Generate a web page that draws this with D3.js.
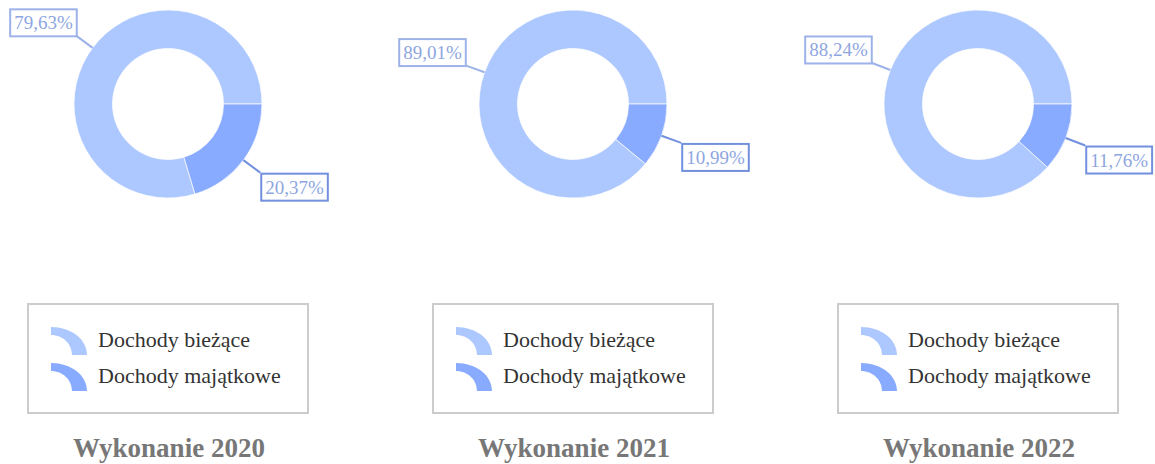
<!DOCTYPE html>
<html>
<head>
<meta charset="utf-8">
<script src="https://cdn.jsdelivr.net/npm/d3@7"></script>
<style>
  body { margin: 0; background: #fff; }
  svg { display: block; font-family: "Liberation Serif", "Times New Roman", serif; }
</style>
</head>
<body>
<svg id="chart" width="1155" height="464"></svg>
<script>
// values
const years = ["2020", "2021", "2022"];
const categories = ["Dochody bieżące", "Dochody majątkowe"];
const biezace = [79.63, 89.01, 88.24];
const majatkowe = [20.37, 10.99, 11.76];

const sliceColors = ["#adc8ff", "#88aaff"];
const labelStroke = ["#9cb2e8", "#7290dd"];
const labelText = "#8ea6df";

const svg = d3.select("#chart");
const panelX = d3.scalePoint().domain(years).range([168, 978]);
const cy = 104;
const outerR = 94, innerR = 55.5, lineR = 115;

const fmt = d3.formatLocale({ decimal: ",", thousands: " ", grouping: [3], currency: ["", " zł"] }).format(".2f");

// counter-clockwise from 3 o'clock, like the original
const pie = d3.pie().sort(null).startAngle(Math.PI / 2).endAngle(Math.PI / 2 - 2 * Math.PI);
const arc = d3.arc().innerRadius(innerR).outerRadius(outerR);

// legend icon: a quarter of an elliptic ring, origin at its bottom-left
function iconPath() {
    const p = d3.path();
    p.moveTo(0, -28);
    p.bezierCurveTo(20, -28, 36, -16, 36, 0);
    p.lineTo(21, 0);
    p.bezierCurveTo(21, -11, 12, -20, 0, -20);
    p.closePath();
    return p.toString();
}

years.forEach(function(year, i) {
    const cx = panelX(year);
    const values = [biezace[i], majatkowe[i]];
    const g = svg.append("g").attr("class", "panel").attr("transform", "translate(" + cx + "," + cy + ")");

    const arcs = pie(values);
    g.selectAll("path.slice").data(arcs).enter()
        .append("path")
        .attr("class", "slice")
        .attr("d", arc)
        .attr("fill", function(d, k) { return sliceColors[k]; })
        .attr("stroke", "#fff")
        .attr("stroke-opacity", 0.7)
        .attr("stroke-width", 1);

    arcs.forEach(function(d, k) {
        const mid = (d.startAngle + d.endAngle) / 2;
        const sx = Math.sin(mid), sy = -Math.cos(mid);
        const x0 = sx * outerR, y0 = sy * outerR;
        const x1 = sx * lineR, y1 = sy * lineR;
        g.append("line")
            .attr("x1", x0).attr("y1", y0)
            .attr("x2", x1).attr("y2", y1)
            .attr("stroke", labelStroke[k])
            .attr("stroke-width", 2);

        const lab = g.append("g");
        const txt = lab.append("text")
            .attr("font-size", 19)
            .attr("fill", labelText)
            .text(fmt(values[k]) + "%");
        const w = txt.node().getComputedTextLength();
        const bw = w + 8, bh = 27;
        const bx = sx < 0 ? x1 + 1 - bw : x1 + 1;
        const by = sy < 0 ? y1 + 1 - bh : y1 + 1;
        lab.insert("rect", "text")
            .attr("x", bx).attr("y", by)
            .attr("width", bw).attr("height", bh)
            .attr("fill", "#fff")
            .attr("stroke", labelStroke[k])
            .attr("stroke-width", 2);
        txt.attr("x", bx + 4).attr("y", by + 20);
    });

    // legend
    const legW = 280, legTop = 304, legH = 109;
    const leg = svg.append("g").attr("class", "legend").attr("transform", "translate(" + (cx - legW / 2) + "," + legTop + ")");
    leg.append("rect")
        .attr("width", legW).attr("height", legH)
        .attr("fill", "#fff")
        .attr("stroke", "#cccccc")
        .attr("stroke-width", 2);
    categories.forEach(function(name, k) {
        const row = leg.append("g").attr("transform", "translate(0," + (k * 36) + ")");
        row.append("path")
            .attr("d", iconPath())
            .attr("transform", "translate(23,51)")
            .attr("fill", sliceColors[k]);
        row.append("text")
            .attr("x", 70).attr("y", 43)
            .attr("font-size", 22)
            .attr("fill", "#333")
            .text(name);
    });

    svg.append("text")
        .attr("x", cx + 1).attr("y", 457)
        .attr("text-anchor", "middle")
        .attr("font-size", 27)
        .attr("font-weight", "bold")
        .attr("fill", "#777")
        .text("Wykonanie " + year);
});
</script>
</body>
</html>
